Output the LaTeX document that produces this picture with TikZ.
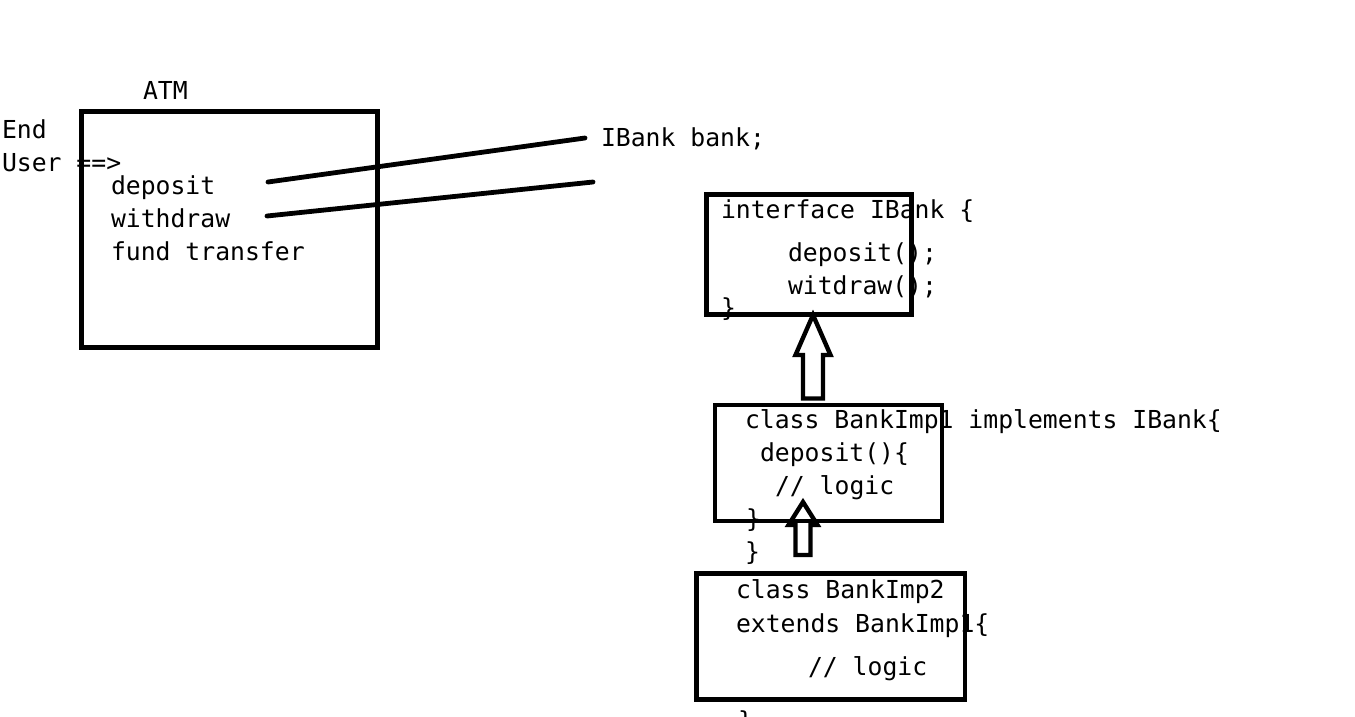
\documentclass[tikz,border=0pt]{standalone}
\usepackage{fontspec}
\setmonofont{DejaVu Sans Mono}
\begin{document}
\begin{tikzpicture}[x=1pt,y=-1pt,
  txt/.style={anchor=base west,inner sep=0pt,outer sep=0pt,font=\ttfamily\fontsize{24.75}{33}\selectfont,text=black},
  boxx/.style={draw=black,line width=4.4pt,rectangle,inner sep=0pt,fill=none},
  link/.style={draw=black,line width=4.8pt,line cap=round},
  hollow/.style={draw=black,line width=4.4pt,line join=miter,fill=none}]
\useasboundingbox (0,0) rectangle (1355,716);
% texts
\node[txt] (atmlabel) at (143,99) {ATM};
\node[txt] (end) at (2,138) {End};
\node[txt] (user) at (2,171) {User ==>};
\node[txt] (dep) at (111,194) {deposit};
\node[txt] (wd) at (111,227) {withdraw};
\node[txt] (ft) at (111,260) {fund transfer};
\node[txt] (ibankvar) at (601,146) {IBank bank;};
\node[txt] (if1) at (721,218) {interface IBank \{};
\node[txt] (if2) at (788,261) {deposit();};
\node[txt] (if3) at (788,294) {witdraw();};
\node[txt] (if4) at (721,316) {\}};
\node[txt] (c1a) at (745,428) {class BankImp1 implements IBank\{};
\node[txt] (c1b) at (760,461) {deposit()\{};
\node[txt] (c1c) at (775,494) {// logic};
\node[txt] (c1d) at (746,527) {\}};
\node[txt] (c1e) at (745,560) {\}};
\node[txt] (c2a) at (736,598) {class BankImp2};
\node[txt] (c2b) at (736,632) {extends BankImp1\{};
\node[txt] (c2c) at (808,675) {// logic};
\node[txt] (c2d) at (738,729) {\}};
% boxes
\node[boxx,minimum width=296pt,minimum height=236pt] (atm) at (229.5,229.5) {};
\node[boxx,minimum width=205pt,minimum height=120pt] (ibank) at (809,254.5) {};
\node[boxx,minimum width=227pt,minimum height=116pt] (imp1) at (828.5,463) {};
\node[boxx,minimum width=268.5pt,minimum height=126pt] (imp2) at (830.75,636.5) {};
% links from ATM operations to the IBank reference
\coordinate (d1) at (268,182);
\coordinate (d2) at (585,138);
\coordinate (w1) at (267,216);
\coordinate (w2) at (593,182);
\draw[link] (d1) -- (d2);
\draw[link] (w1) -- (w2);
% hollow inheritance arrows
\coordinate (a1base) at (813,398.5);
\coordinate (a2base) at (803,555);
\draw[hollow] (a1base) ++(-10,0) -- ++(0,-43.5) -- ++(-7.5,0) -- ++(17.5,-40) -- ++(17.5,40) -- ++(-7.5,0) -- ++(0,43.5) -- cycle;
\draw[hollow] (a2base) ++(-7.5,0) -- ++(0,-30) -- ++(-7,0) -- ++(14.5,-23) -- ++(14.5,23) -- ++(-7,0) -- ++(0,30) -- cycle;
\end{tikzpicture}
\end{document}
